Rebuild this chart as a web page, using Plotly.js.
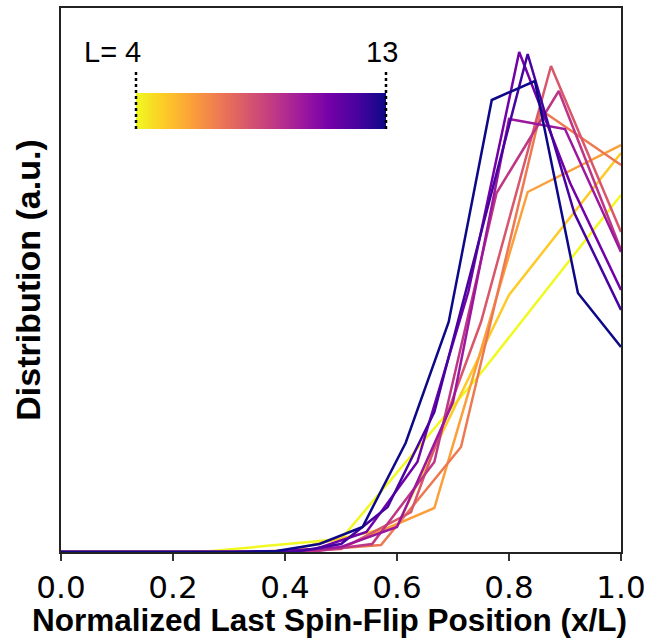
<!DOCTYPE html>
<html>
<head>
<meta charset="utf-8">
<script src="https://cdn.plot.ly/plotly-3.0.1.min.js"></script>
<style>
html,body{margin:0;padding:0;background:#fff;}
#chart{width:647px;height:641px;}
</style>
</head>
<body>
<div id="chart"></div>
<script>
// System sizes
const sizes = [4, 5, 6, 7, 8, 9, 10, 11, 12, 13];
// Distribution values (a.u.) at x = k/L, k = 0..L
const dist_L4  = [0, 0, 13, 179, 357];
const dist_L5  = [0, 0, 1, 26, 257, 399];
const dist_L6  = [0, 0, 0, 4, 44, 360, 407];
const dist_L7  = [0, 0, 0, 1, 7, 105, 442, 387];
const dist_L8  = [0, 0, 0, 0, 3, 40, 230, 486, 320];
const dist_L9  = [0, 0, 0, 0, 0, 8, 90, 359, 461, 302];
const dist_L10 = [0, 0, 0, 0, 0, 5, 25, 150, 433, 423, 300];
const dist_L11 = [0, 0, 0, 0, 0, 3, 20, 90, 260, 500, 369, 262];
const dist_L12 = [0, 0, 0, 0, 0, 0, 8, 45, 140, 320, 498, 339, 242];
const dist_L13 = [0, 0, 0, 0, 0, 1, 8, 25, 109, 230, 452, 471, 259, 205];
const allDist = [dist_L4, dist_L5, dist_L6, dist_L7, dist_L8, dist_L9, dist_L10, dist_L11, dist_L12, dist_L13];
// Plasma colours, L = 4 (yellow) ... L = 13 (dark blue)
const colors = ['#f0f921', '#fdca26', '#fb9f3a', '#ed7953', '#d8576b', '#bd3786', '#9c179e', '#7201a8', '#46039f', '#0d0887'];
const xTicks = [0, 0.2, 0.4, 0.6, 0.8, 1.0];
const xTickText = ['0.0', '0.2', '0.4', '0.6', '0.8', '1.0'];

const traces = sizes.map((L, i) => ({
  type: 'scatter',
  mode: 'lines',
  x: allDist[i].map((_, k) => k / L),
  y: allDist[i],
  line: {color: colors[i], width: 2.5},
  showlegend: false,
  hoverinfo: 'skip',
  xaxis: 'x', yaxis: 'y'
}));

// colour bar inset
const plasmaScale = [[0, '#f0f921'], [0.111, '#fdca26'], [0.222, '#fb9f3a'], [0.333, '#ed7953'], [0.444, '#d8576b'], [0.556, '#bd3786'], [0.667, '#9c179e'], [0.778, '#7201a8'], [0.889, '#46039f'], [1, '#0d0887']];
traces.push({
  type: 'heatmap',
  x: sizes,
  y: [0],
  z: [sizes],
  colorscale: plasmaScale,
  zmin: 4, zmax: 13,
  zsmooth: 'best',
  showscale: false,
  hoverinfo: 'skip',
  xaxis: 'x2', yaxis: 'y2'
});

const pl = 61, pr = 621, pt = 8, pb = 552, W = 647, H = 641;
const px = v => (v - pl) / (pr - pl);
const py = v => (pb - v) / (pb - pt);

const layout = {
  width: W, height: H,
  margin: {l: pl, r: W - pr, t: pt, b: H - pb},
  paper_bgcolor: '#fff', plot_bgcolor: '#fff',
  showlegend: false,
  xaxis: {
    range: [0, 1], domain: [0, 1],
    tickvals: xTicks, ticktext: xTickText,
    ticks: 'outside', ticklen: 7, tickwidth: 1.5, tickcolor: '#333',
    showline: true, mirror: true, linecolor: '#222', linewidth: 1.8,
    showgrid: false, zeroline: false,
    tickfont: {family: 'DejaVu Sans', size: 31, color: '#000'}
  },
  yaxis: {
    range: [0, 544], domain: [0, 1],
    showticklabels: false, ticks: '',
    showline: true, mirror: true, linecolor: '#222', linewidth: 1.8,
    showgrid: false, zeroline: false,
    title: {text: '<b>Distribution (a.u.)</b>', font: {family: 'Liberation Sans, Arial', size: 34, color: '#000'}, standoff: 8}
  },
  xaxis2: {
    domain: [px(136), px(386)], range: [4, 13], anchor: 'y2',
    visible: false, fixedrange: true
  },
  yaxis2: {
    domain: [py(129), py(93)], range: [-0.5, 0.5], anchor: 'x2',
    visible: false, fixedrange: true
  },
  shapes: [
    {type: 'line', xref: 'paper', yref: 'paper', x0: px(136), x1: px(136), y0: py(129), y1: py(72), line: {color: '#000', width: 2.5, dash: 'dot'}},
    {type: 'line', xref: 'paper', yref: 'paper', x0: px(386), x1: px(386), y0: py(129), y1: py(72), line: {color: '#000', width: 2.5, dash: 'dot'}}
  ],
  annotations: [
    {text: '<b>Normalized Last Spin-Flip Position (x/L)</b>', xref: 'paper', yref: 'paper', x: px(329), y: py(620), xanchor: 'center', yanchor: 'middle', showarrow: false, font: {family: 'Liberation Sans, Arial', size: 31.5, color: '#000'}},
    {text: 'L= 4', xref: 'paper', yref: 'paper', x: px(143), y: py(52), xanchor: 'right', yanchor: 'middle', showarrow: false, font: {family: 'Liberation Sans, Arial', size: 29, color: '#000'}},
    {text: '13', xref: 'paper', yref: 'paper', x: px(382), y: py(52), xanchor: 'center', yanchor: 'middle', showarrow: false, font: {family: 'Liberation Sans, Arial', size: 29, color: '#000'}}
  ]
};

Plotly.newPlot('chart', traces, layout, {staticPlot: true, displayModeBar: false});
</script>
</body>
</html>
